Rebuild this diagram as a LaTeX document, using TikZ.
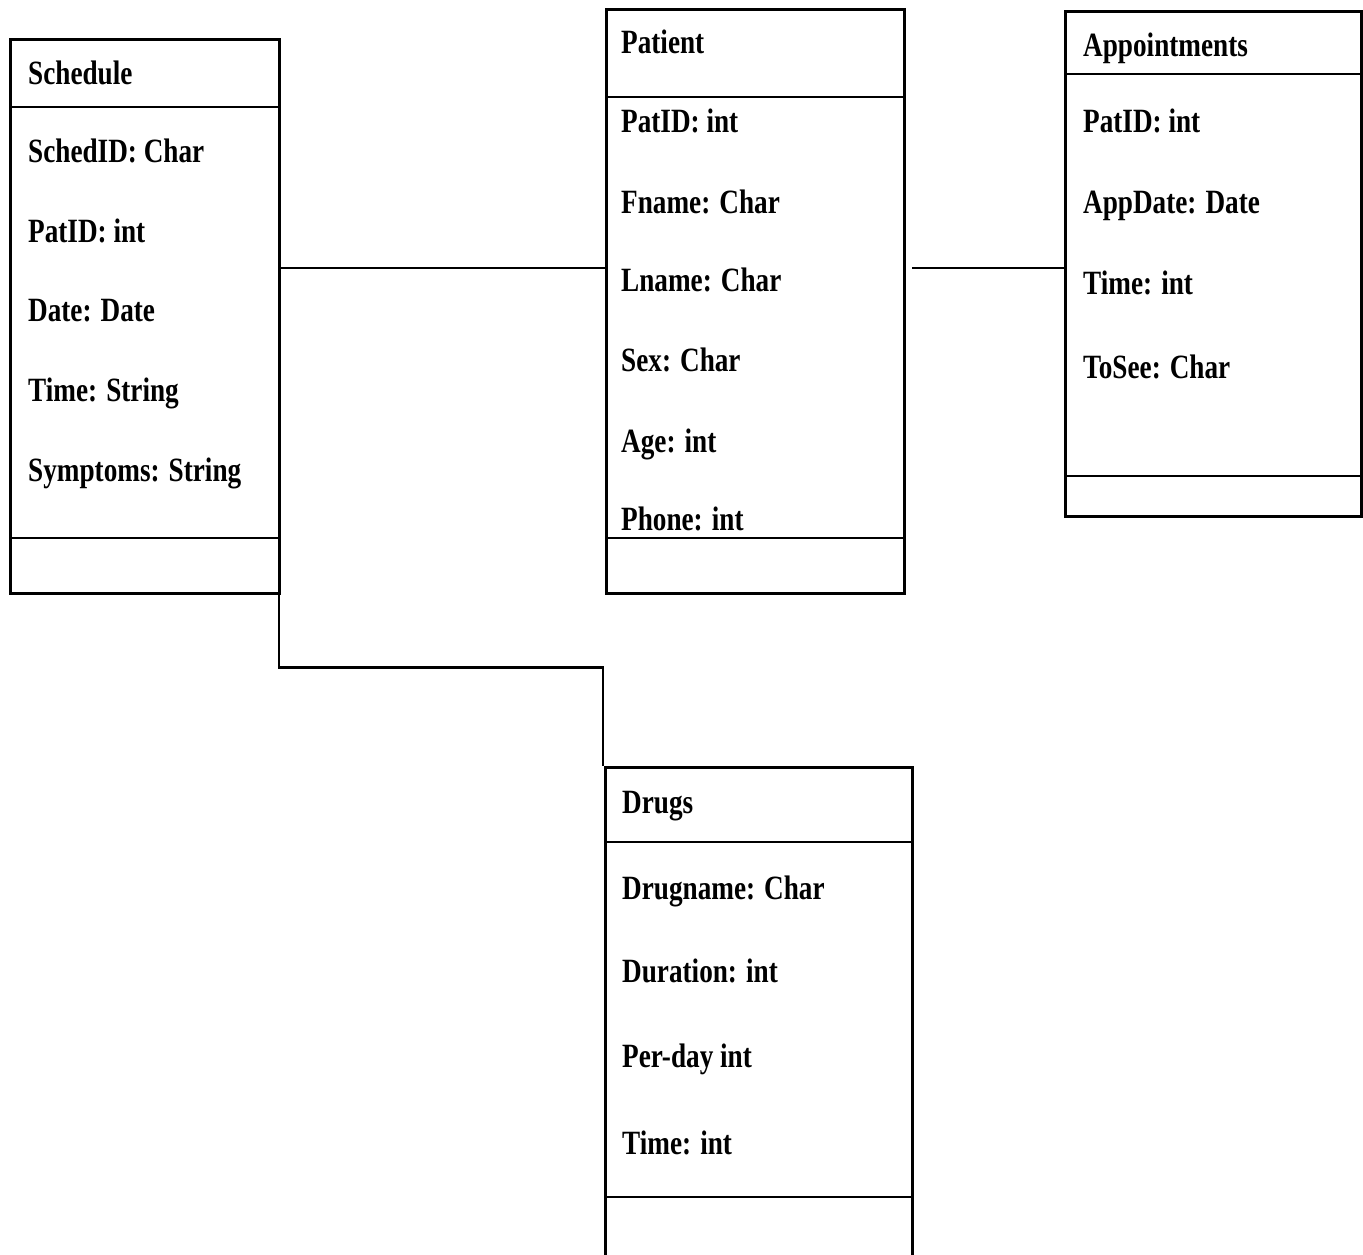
\documentclass[tikz,border=0pt]{standalone}
\usepackage{fontspec}
\setmainfont{Liberation Serif}[FakeStretch=0.8]
\begin{document}
\begin{tikzpicture}[x=1pt,y=-1pt,
  cls/.style={draw, line width=2.6pt, rectangle, anchor=north west, inner sep=0pt},
  sep/.style={line width=2.6pt},
  conn/.style={line width=2.4pt},
  attr/.style={anchor=base west, inner sep=0pt, font=\fontsize{34}{40}\selectfont\bfseries}]
\useasboundingbox (0,0) rectangle (1363,1254);
\clip (0,0) rectangle (1363,1254);
\fill[white] (0,0) rectangle (1363,1254);

% Schedule class
\node[cls, minimum width=269, minimum height=554] (sched) at (9,38) {};
\draw[sep] (sched.west |- 0,107) -- (sched.east |- 0,107);
\draw[sep] (sched.west |- 0,538) -- (sched.east |- 0,538);
\node[attr] (s0) at (28,84) {Schedule};
\node[attr] (s1) at (28,162) {SchedID: Char};
\node[attr] (s2) at (28,242) {PatID: int};
\node[attr] (s3) at (28,321) {Date: Date};
\node[attr] (s4) at (28,401) {Time: String};
\node[attr] (s5) at (28,481) {Symptoms: String};

% Patient class
\node[cls, minimum width=298, minimum height=584] (pat) at (605,8) {};
\draw[sep] (pat.west |- 0,97) -- (pat.east |- 0,97);
\draw[sep] (pat.west |- 0,538) -- (pat.east |- 0,538);
\node[attr] (p0) at (621,53) {Patient};
\node[attr] (p1) at (621,132) {PatID: int};
\node[attr] (p2) at (621,213) {Fname: Char};
\node[attr] (p3) at (621,291) {Lname: Char};
\node[attr] (p4) at (621,371) {Sex: Char};
\node[attr] (p5) at (621,452) {Age: int};
\node[attr] (p6) at (621,530) {Phone: int};

% Appointments class
\node[cls, minimum width=296, minimum height=505] (appt) at (1064,10) {};
\draw[sep] (appt.west |- 0,74) -- (appt.east |- 0,74);
\draw[sep] (appt.west |- 0,476) -- (appt.east |- 0,476);
\node[attr] (a0) at (1083,56) {Appointments};
\node[attr] (a1) at (1083,132) {PatID: int};
\node[attr] (a2) at (1083,213) {AppDate: Date};
\node[attr] (a3) at (1083,294) {Time: int};
\node[attr] (a4) at (1083,378) {ToSee: Char};

% Drugs class (runs past the lower edge)
\node[cls, minimum width=307, minimum height=520] (drugs) at (604,766) {};
\draw[sep] (drugs.west |- 0,842) -- (drugs.east |- 0,842);
\draw[sep] (drugs.west |- 0,1197) -- (drugs.east |- 0,1197);
\node[attr] (d0) at (622,813) {Drugs};
\node[attr] (d1) at (622,899) {Drugname: Char};
\node[attr] (d2) at (622,982) {Duration: int};
\node[attr] (d3) at (622,1067) {Per-day int};
\node[attr] (d4) at (622,1154) {Time: int};

% Associations
\coordinate (gap) at (912,268);
\draw[conn] (sched.east |- 0,268) -- (pat.west |- 0,268);
\draw[conn] (gap) -- (appt.west |- gap);
\draw[conn] ([xshift=-1.5pt]sched.south east) -- ++(0,73) -| ([xshift=-1pt]drugs.north west);
\end{tikzpicture}
\end{document}
